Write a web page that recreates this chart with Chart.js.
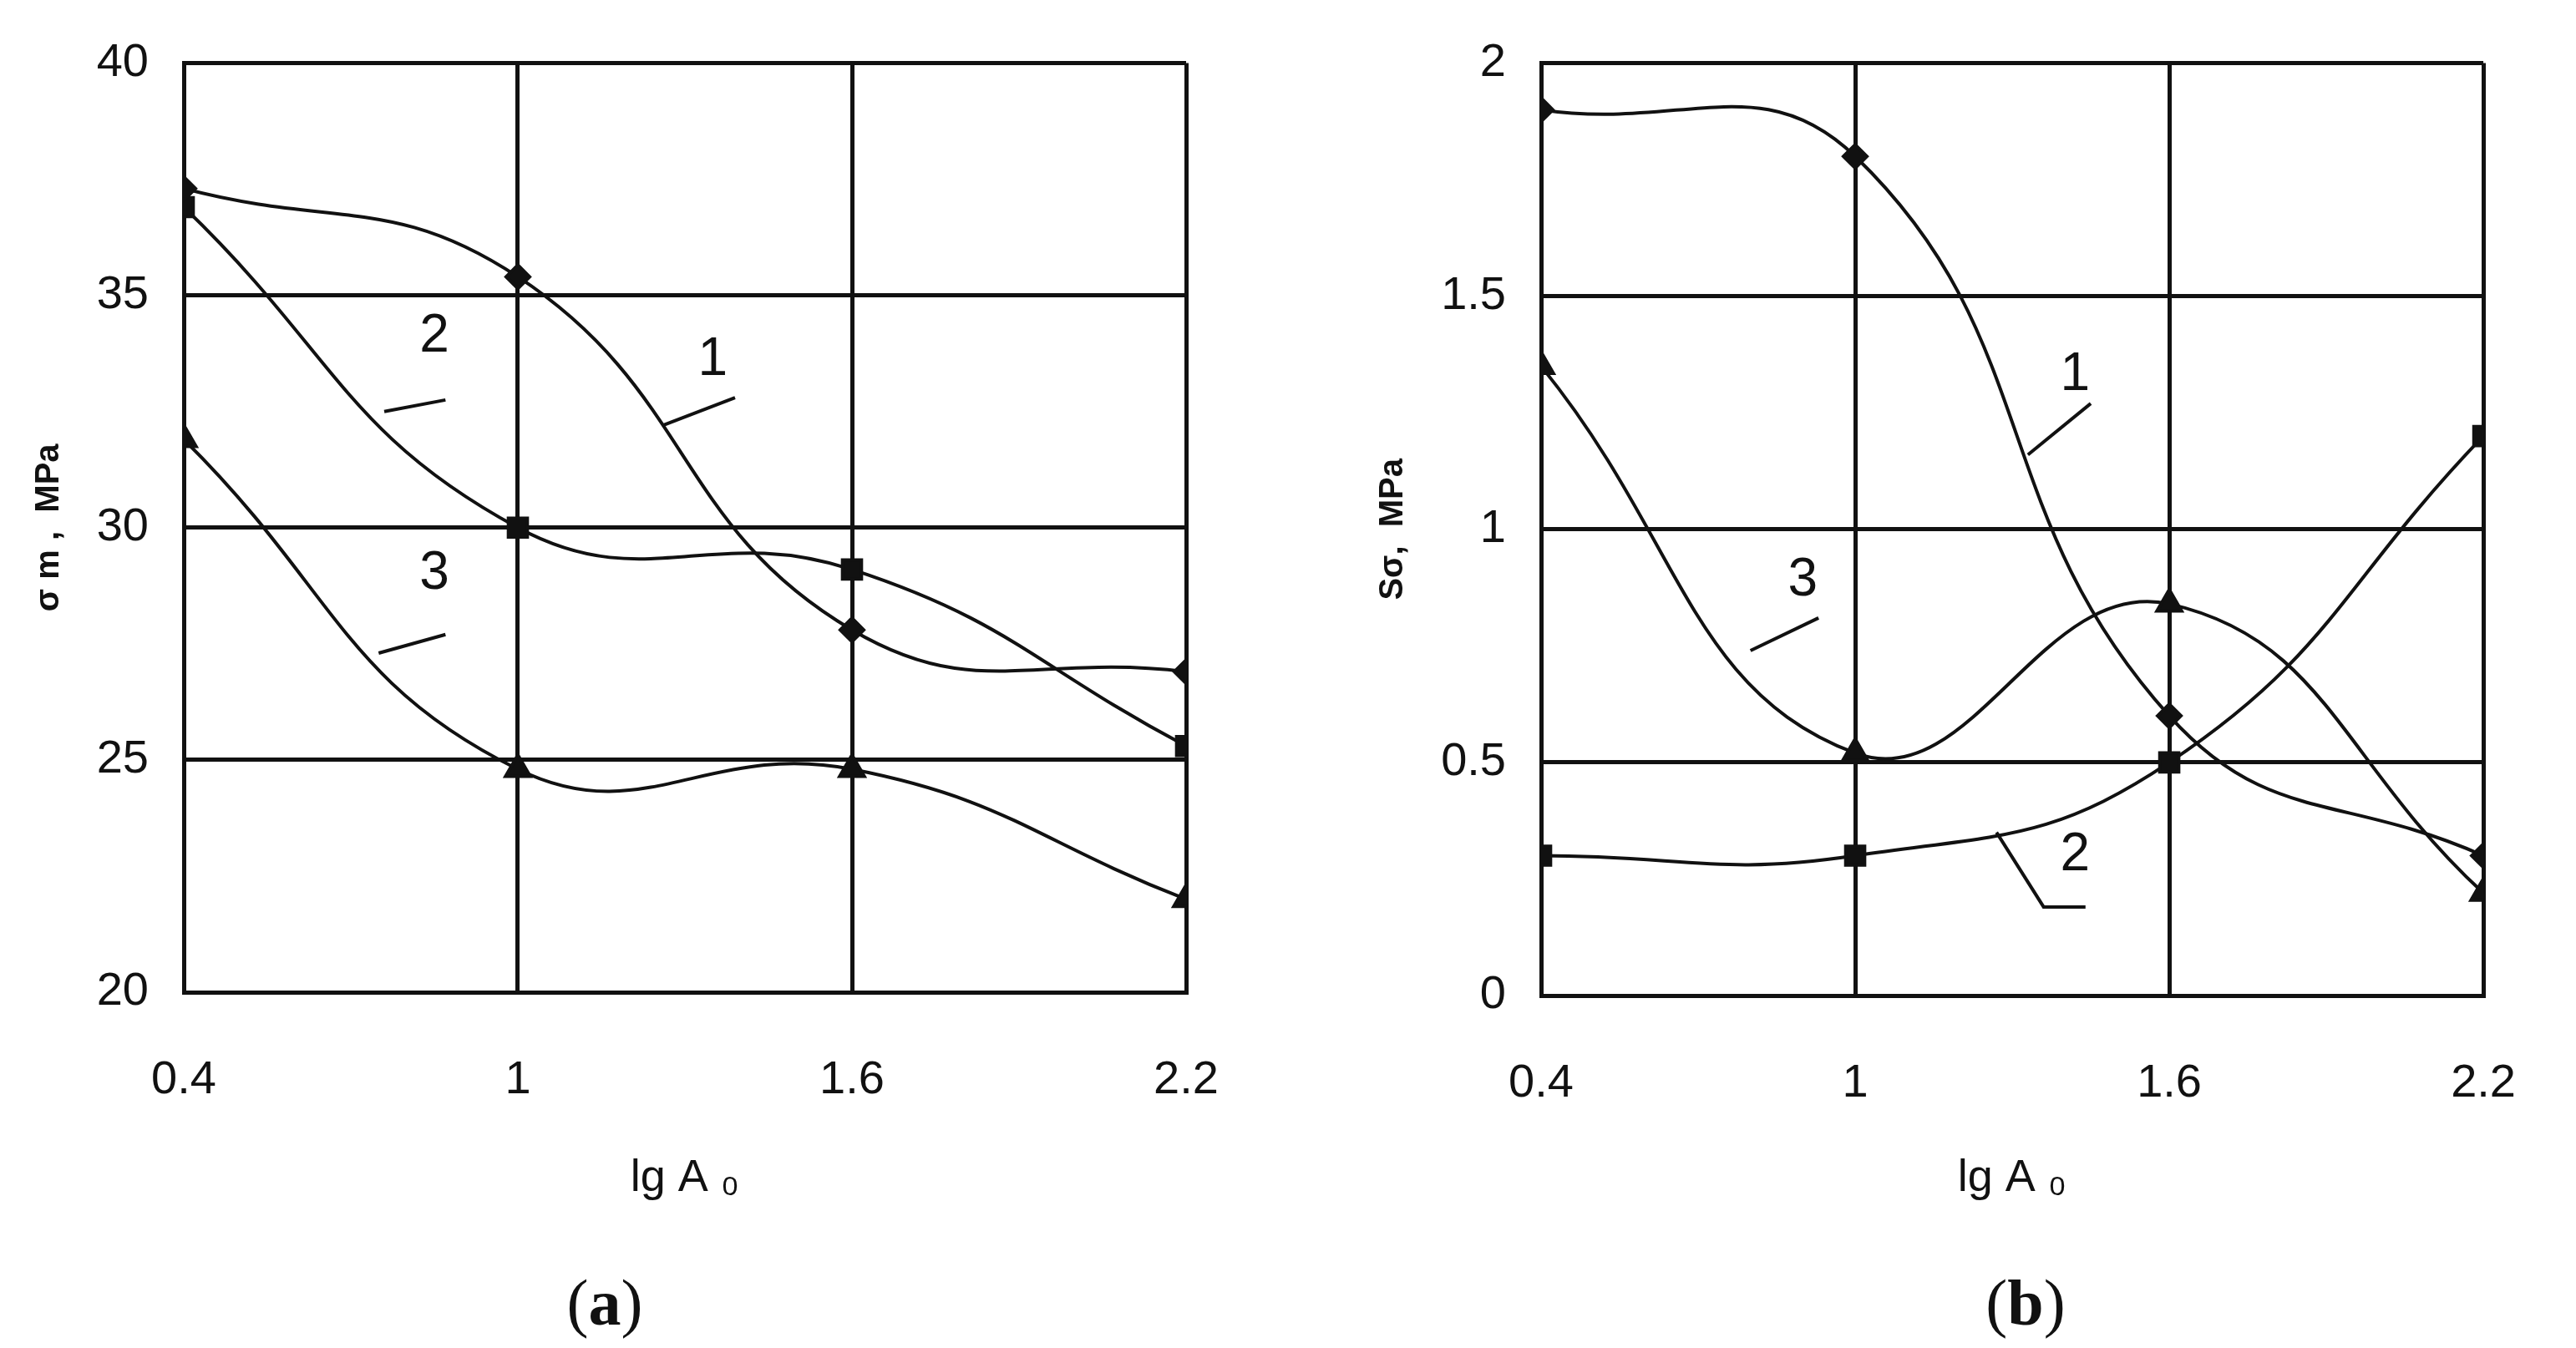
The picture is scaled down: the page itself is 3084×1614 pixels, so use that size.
<!DOCTYPE html>
<html>
<head>
<meta charset="utf-8">
<script src="https://cdn.jsdelivr.net/npm/chart.js@4.4.1/dist/chart.umd.min.js"></script>
<style>
  body { margin: 0; background: #fff; width: 3084px; height: 1614px; position: relative; overflow: hidden; }
  .box { position: absolute; top: 0; height: 1500px; }
  .cap { position: absolute; top: 1515px; font-family: "Liberation Serif", serif; font-size: 78px; color: #111; transform: translateX(-50%); }
</style>
</head>
<body>
<div class="box" style="left:0;width:1540px"><canvas id="chartA"></canvas></div>
<div class="box" style="left:1540px;width:1544px"><canvas id="chartB"></canvas></div>
<div class="cap" style="left:724px">(<b>a</b>)</div>
<div class="cap" style="left:2425px">(<b>b</b>)</div>
<script>
// shared x axis
const xValues = [0.4, 1, 1.6, 2.2];
const xTicks = [0.4, 1, 1.6, 2.2];

// panel (a): sigma_m, MPa
const aCurve1 = [37.3, 35.4, 27.8, 26.9];
const aCurve2 = [36.9, 30.0, 29.1, 25.3];
const aCurve3 = [31.9, 24.8, 24.8, 22.0];
const aTicks = [20, 25, 30, 35, 40];

// panel (b): S_sigma, MPa
const bCurve1 = [1.9, 1.8, 0.6, 0.3];
const bCurve2 = [0.3, 0.3, 0.5, 1.2];
const bCurve3 = [1.35, 0.52, 0.84, 0.22];
const bTicks = [0, 0.5, 1, 1.5, 2];

// curve labels with leader lines, in data coordinates
const aLabels = [
  { text: '1', at: [1.35, 33.6], line: [[1.26, 32.2], [1.39, 32.8]] },
  { text: '2', at: [0.85, 34.1], line: [[0.76, 32.5], [0.87, 32.75]] },
  { text: '3', at: [0.85, 29.0], line: [[0.75, 27.3], [0.87, 27.7]] }
];
const bLabels = [
  { text: '1', at: [1.42, 1.33], line: [[1.33, 1.16], [1.45, 1.27]] },
  { text: '3', at: [0.90, 0.89], line: [[0.80, 0.74], [0.93, 0.81]] },
  { text: '2', at: [1.42, 0.30], line: [[1.27, 0.35], [1.36, 0.19], [1.44, 0.19]] }
];

const FONT = "'Liberation Sans', Arial, sans-serif";

const curveLabels = {
  id: 'curveLabels',
  afterDatasetsDraw(chart, args, opts) {
    const { ctx, scales: { x, y } } = chart;
    ctx.save();
    ctx.strokeStyle = '#111';
    ctx.lineWidth = 4;
    ctx.fillStyle = '#111';
    ctx.font = '64px ' + FONT;
    ctx.textAlign = 'center';
    ctx.textBaseline = 'middle';
    opts.items.forEach(it => {
      ctx.beginPath();
      it.line.forEach((p, i) => {
        const px = x.getPixelForValue(p[0]), py = y.getPixelForValue(p[1]);
        i ? ctx.lineTo(px, py) : ctx.moveTo(px, py);
      });
      ctx.stroke();
      ctx.fillText(it.text, x.getPixelForValue(it.at[0]), y.getPixelForValue(it.at[1]));
    });
    ctx.restore();
  }
};

function ds(data, style, r) {
  return {
    data: data.map((v, i) => ({ x: xValues[i], y: v })),
    borderColor: '#111', backgroundColor: '#111', borderWidth: 4,
    pointStyle: style, pointRadius: r, tension: 0.45
  };
}

function makeChart(id, series, yTicks, yTitle, labels, g) {
  return new Chart(document.getElementById(id), {
    type: 'line',
    data: {
      datasets: [
        ds(series[0], 'rectRot', 14),
        ds(series[1], 'rect', 16),
        ds(series[2], 'triangle', 17)
      ]
    },
    options: {
      responsive: true, maintainAspectRatio: false, animation: false,
      layout: { padding: { left: 0, right: g.right, top: g.top, bottom: 0 } },
      plugins: { legend: { display: false }, tooltip: { enabled: false }, curveLabels: { items: labels } },
      scales: {
        x: {
          type: 'linear', min: xTicks[0], max: xTicks[xTicks.length - 1],
          afterBuildTicks: s => { s.ticks = xTicks.map(v => ({ value: v })); },
          afterFit: s => { s.height = 1500 - g.bottom; },
          grid: { color: '#111', lineWidth: 5, drawTicks: false },
          border: { color: '#111', width: 5 },
          ticks: { color: '#111', padding: 72, font: { size: 56, family: FONT }, callback: v => String(v) },
          title: { display: true, text: 'lg A \u2080', color: '#111', font: { size: 54, family: FONT }, padding: { top: 0, bottom: 56 } }
        },
        y: {
          min: yTicks[0], max: yTicks[yTicks.length - 1],
          afterBuildTicks: s => { s.ticks = yTicks.map(v => ({ value: v })); },
          afterFit: s => { s.width = g.left; },
          grid: { color: '#111', lineWidth: 5, drawTicks: false },
          border: { color: '#111', width: 5 },
          ticks: { color: '#111', padding: 42, font: { size: 56, family: FONT }, callback: v => String(v) },
          title: { display: true, text: yTitle, color: '#111', font: { size: 40, weight: 'bold', family: FONT }, padding: { top: g.ytitle, bottom: 0 } }
        }
      }
    },
    plugins: [curveLabels]
  });
}

makeChart('chartA', [aCurve1, aCurve2, aCurve3], aTicks, '\u03c3 m ,  MPa', aLabels,
  { left: 220, right: 120, top: 61, bottom: 1188, ytitle: 35 });
makeChart('chartB', [bCurve1, bCurve2, bCurve3], bTicks, 'S\u03c3,  MPa', bLabels,
  { left: 305, right: 41, top: 63, bottom: 1192, ytitle: 104 });
</script>
</body>
</html>
